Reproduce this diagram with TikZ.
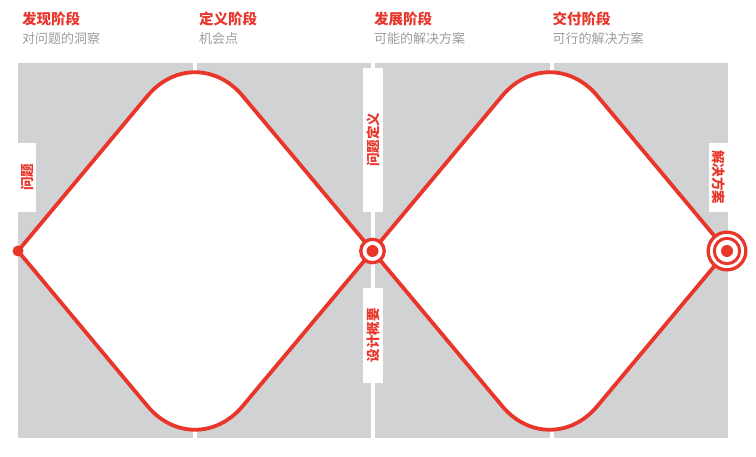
\documentclass[tikz,border=0pt]{standalone}
\usepackage{fontspec}
\setmainfont{Noto Sans CJK SC}
\definecolor{dred}{HTML}{E8362B}
\definecolor{panel}{HTML}{D1D2D4}
\definecolor{subgray}{HTML}{9D9D9D}
\begin{document}
\begin{tikzpicture}[x=1pt,y=-1pt,
  head/.style={anchor=west, inner sep=0pt, text=dred, font=\fontsize{14.5}{16}\selectfont\bfseries},
  subt/.style={anchor=west, inner sep=0pt, text=subgray, font=\fontsize{13}{15}\selectfont},
  tag/.style={fill=white, text=dred, inner sep=0pt, font=\fontsize{13.5}{15}\selectfont\bfseries},
  panelbox/.style={fill=panel},
  gap/.style={fill=white},
  curvefill/.style={fill=white, rounded corners=74pt},
  curve/.style={draw=dred, line width=3.8pt, rounded corners=74pt},
  dot/.style={circle, fill=dred, inner sep=0pt, minimum size=#1},
  ring/.style={circle, draw=dred, fill=white, inner sep=0pt, line width=3.3pt, minimum size=#1},
]
\useasboundingbox (0,0) rectangle (756,457);
% panels
\fill[panelbox] (18,63) rectangle (728,438);
\fill[gap] (193,63) rectangle (196.5,438);
\fill[gap] (371,63) rectangle (375,438);
\fill[gap] (550,63) rectangle (554,438);
% diamond corner points
\coordinate (L1) at (18,251);
\coordinate (T1) at (195,39);
\coordinate (R1) at (372.5,251);
\coordinate (B1) at (195,463);
\coordinate (T2) at (549.75,39);
\coordinate (R2) at (727,251);
\coordinate (B2) at (549.75,463);
% fills
\fill[curvefill] (L1) -- (T1) -- (R1);
\fill[curvefill] (L1) -- (B1) -- (R1);
\fill[white] (L1) -- (195,200) -- (R1) -- (195,302) -- cycle;
\fill[curvefill] (R1) -- (T2) -- (R2);
\fill[curvefill] (R1) -- (B2) -- (R2);
\fill[white] (R1) -- (549.75,200) -- (R2) -- (549.75,302) -- cycle;
% strokes
\draw[curve] (L1) -- (T1) -- (R1);
\draw[curve] (L1) -- (B1) -- (R1);
\draw[curve] (R1) -- (T2) -- (R2);
\draw[curve] (R1) -- (B2) -- (R2);
% labels
\node[tag, rotate=90, minimum width=69pt, minimum height=18pt] (q1) at (27,177.5) {问题};
\node[tag, rotate=90, minimum width=144pt, minimum height=20pt] (q2) at (373,140) {问题定义};
\node[tag, rotate=90, minimum width=95pt, minimum height=20pt] (q3) at (373,335.5) {设计概要};
\node[tag, rotate=-90, minimum width=69pt, minimum height=19pt] (q4) at (718.5,177.5) {解决方案};
% markers
\node[dot=11pt] (start) at (L1) {};
\node[ring=23.5pt] (mid) at (R1) {};
\node[dot=12pt] (midc) at (mid) {};
\node[ring=37.7pt] (end) at (R2) {};
\node[ring=25.4pt, line width=3pt] (endr) at (end) {};
\node[dot=12pt] (endc) at (end) {};
% headers
\node[head] (h1) at (22,19) {发现阶段};
\node[subt] (s1) at (22,39) {对问题的洞察};
\node[head] (h2) at (199,19) {定义阶段};
\node[subt] (s2) at (199,39) {机会点};
\node[head] (h3) at (374,19) {发展阶段};
\node[subt] (s3) at (374,39) {可能的解决方案};
\node[head] (h4) at (552.5,19) {交付阶段};
\node[subt] (s4) at (552.5,39) {可行的解决方案};
\end{tikzpicture}
\end{document}
